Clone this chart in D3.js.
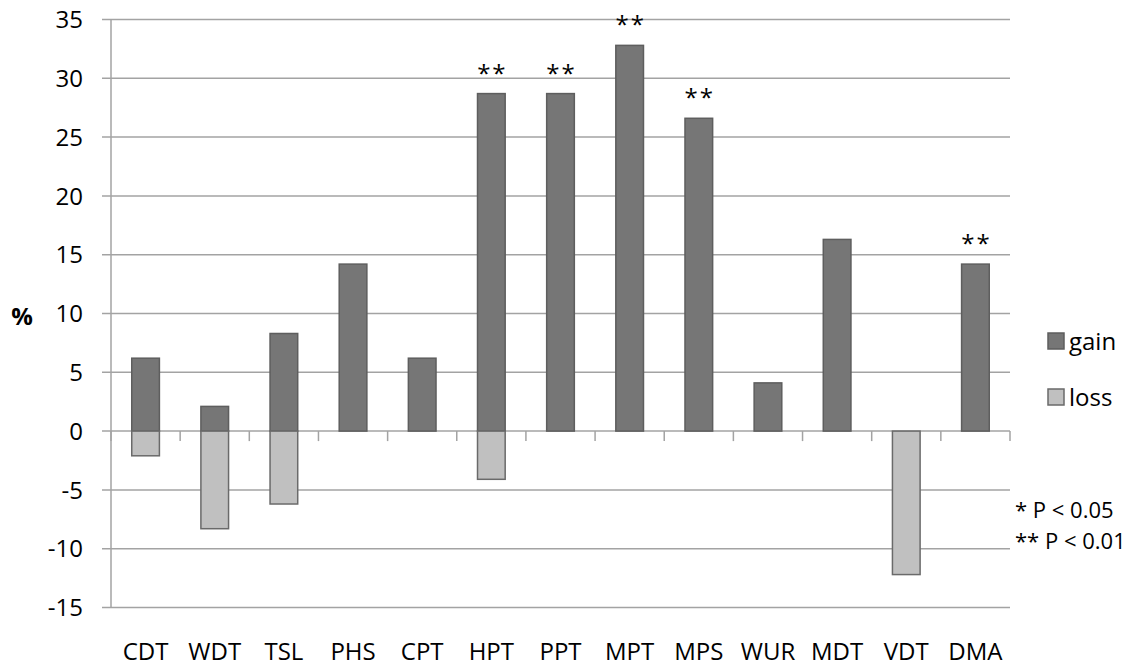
<!DOCTYPE html>
<html>
<head>
<meta charset="utf-8">
<script src="https://cdn.jsdelivr.net/npm/d3@7"></script>
<style>
  body { margin: 0; background: #fff; }
  svg { display: block; font-family: "Open Sans", sans-serif; }
</style>
</head>
<body>
<div id="chart"></div>
<script>
// Chart data
const categories = ["CDT", "WDT", "TSL", "PHS", "CPT", "HPT", "PPT", "MPT", "MPS", "WUR", "MDT", "VDT", "DMA"];
const gainValues = [6.2, 2.1, 8.3, 14.2, 6.2, 28.7, 28.7, 32.8, 26.6, 4.1, 16.3, 0, 14.2];
const lossValues = [-2.1, -8.3, -6.2, 0, 0, -4.1, 0, 0, 0, 0, 0, -12.2, 0];
const significance = ["", "", "", "", "", "**", "**", "**", "**", "", "", "", "**"];
const yTicks = [-15, -10, -5, 0, 5, 10, 15, 20, 25, 30, 35];
const seriesNames = ["gain", "loss"];
const pNotes = ["* P < 0.05", "** P < 0.01"];

const width = 1135;
const height = 666;

const svg = d3.select("#chart")
    .append("svg")
    .attr("width", width)
    .attr("height", height);

// Scales
const x = d3.scaleBand()
    .domain(categories)
    .range([111, 1010])
    .paddingInner(0.6)
    .paddingOuter(0.3);

const y = d3.scaleLinear()
    .domain([-15, 35])
    .range([607.5, 19.5]);

const colors = { gain: "#767676", loss: "#c0c0c0" };
const gridColor = "#a3a3a3";

// Horizontal gridlines (also act as left ticks)
svg.append("g")
    .selectAll("line")
    .data(yTicks)
    .join("line")
    .attr("x1", 102)
    .attr("x2", 1010)
    .attr("y1", d => y(d))
    .attr("y2", d => y(d))
    .attr("stroke", gridColor)
    .attr("stroke-width", 1.5);

// Y axis labels
svg.append("g")
    .selectAll("text")
    .data(yTicks)
    .join("text")
    .attr("x", 83)
    .attr("y", d => y(d))
    .attr("dy", "0.36em")
    .attr("text-anchor", "end")
    .attr("font-size", 24)
    .attr("fill", "#000")
    .text(d => d);

// Vertical axis line
svg.append("line")
    .attr("x1", 111).attr("x2", 111)
    .attr("y1", y(35)).attr("y2", y(-15))
    .attr("stroke", gridColor)
    .attr("stroke-width", 1.5);

// Category boundary ticks on the zero line
const boundaries = categories.map(c => x(c) - x.step() * 0.3).concat([1010]);
svg.append("g")
    .selectAll("line")
    .data(boundaries)
    .join("line")
    .attr("x1", d => d).attr("x2", d => d)
    .attr("y1", y(0)).attr("y2", y(0) + 10)
    .attr("stroke", gridColor)
    .attr("stroke-width", 1.5);

// Gain bars
svg.append("g")
    .selectAll("rect")
    .data(categories.map((c, i) => ({ c, v: gainValues[i] })).filter(d => d.v > 0))
    .join("rect")
    .attr("x", d => x(d.c))
    .attr("y", d => y(d.v))
    .attr("width", x.bandwidth())
    .attr("height", d => y(0) - y(d.v))
    .attr("fill", colors.gain)
    .attr("stroke", "#5e5e5e")
    .attr("stroke-width", 1.5);

// Loss bars
svg.append("g")
    .selectAll("rect")
    .data(categories.map((c, i) => ({ c, v: lossValues[i] })).filter(d => d.v < 0))
    .join("rect")
    .attr("x", d => x(d.c))
    .attr("y", y(0))
    .attr("width", x.bandwidth())
    .attr("height", d => y(d.v) - y(0))
    .attr("fill", colors.loss)
    .attr("stroke", "#6a6a6a")
    .attr("stroke-width", 1.5);

// Significance markers
svg.append("g")
    .selectAll("text")
    .data(categories.map((c, i) => ({ c, v: gainValues[i], s: significance[i] })).filter(d => d.s))
    .join("text")
    .attr("x", d => x(d.c) + x.bandwidth() / 2 + 1)
    .attr("y", d => y(d.v) - 12)
    .attr("text-anchor", "middle")
    .attr("font-size", 24)
    .attr("letter-spacing", 2)
    .text(d => d.s);

// Category labels
svg.append("g")
    .selectAll("text")
    .data(categories)
    .join("text")
    .attr("x", d => x(d) + x.bandwidth() / 2)
    .attr("y", 660)
    .attr("text-anchor", "middle")
    .attr("font-size", 24)
    .text(d => d);

// Y axis title
svg.append("text")
    .attr("x", 22)
    .attr("y", 316)
    .attr("dy", "0.36em")
    .attr("text-anchor", "middle")
    .attr("font-size", 24)
    .attr("font-weight", "bold")
    .text("%");

// Legend
const legend = svg.append("g");
seriesNames.forEach((name, i) => {
    const cy = 341 + i * 56;
    legend.append("rect")
        .attr("x", 1048)
        .attr("y", cy - 8)
        .attr("width", 16)
        .attr("height", 16)
        .attr("fill", colors[name])
        .attr("stroke", name === "gain" ? "#5e5e5e" : "#6a6a6a")
        .attr("stroke-width", 1.5);
    legend.append("text")
        .attr("x", 1069)
        .attr("y", cy)
        .attr("dy", "0.36em")
        .attr("font-size", 24)
        .text(name);
});

// P-value notes
svg.append("g")
    .selectAll("text")
    .data(pNotes)
    .join("text")
    .attr("x", 1015)
    .attr("y", (d, i) => 510 + i * 31)
    .attr("dy", "0.36em")
    .attr("font-size", 22)
    .text(d => d);
</script>
</body>
</html>
